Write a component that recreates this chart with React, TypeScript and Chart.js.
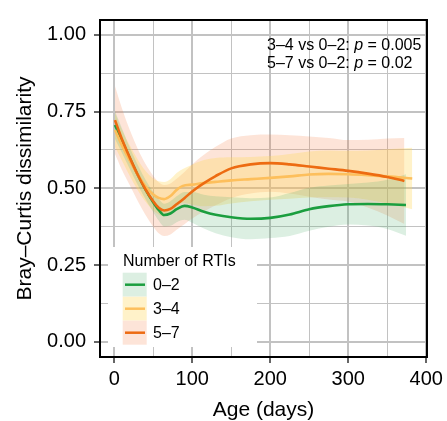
import React, { useEffect, useRef } from "react";
import { Chart, registerables } from "chart.js";

Chart.register(...registerables);

// ---- data ----
const groupNames = ["0–2", "3–4", "5–7"];
const legendTitle = "Number of RTIs";
const xTitle = "Age (days)";
const yTitle = "Bray–Curtis dissimilarity";
const annotationLines = [
  ["3–4 vs 0–2: ", "p", " = 0.005"],
  ["5–7 vs 0–2: ", "p", " = 0.02"],
];

const xTickValues = [0, 50, 100, 150, 200, 250, 300, 350, 400];
const xMajorTicks = [0, 100, 200, 300, 400];
const yTickValues = [0, 0.125, 0.25, 0.375, 0.5, 0.625, 0.75, 0.875, 1];
const yMajorTicks = [0, 0.25, 0.5, 0.75, 1];

const days02 = [1, 10, 20, 30, 40, 50, 57, 64, 72, 80, 90, 100, 115, 130, 150, 175, 200, 225, 250, 275, 300, 325, 350, 374];
const mean02 = [0.706, 0.655, 0.598, 0.545, 0.497, 0.455, 0.43, 0.413, 0.418, 0.432, 0.443, 0.438, 0.424, 0.414, 0.406, 0.401, 0.404, 0.415, 0.432, 0.442, 0.448, 0.449, 0.448, 0.446];
const upper02 = [0.751, 0.695, 0.633, 0.578, 0.529, 0.488, 0.465, 0.45, 0.458, 0.474, 0.488, 0.488, 0.479, 0.474, 0.471, 0.468, 0.47, 0.485, 0.502, 0.509, 0.514, 0.519, 0.528, 0.546];
const lower02 = [0.661, 0.615, 0.563, 0.512, 0.465, 0.422, 0.395, 0.376, 0.378, 0.39, 0.398, 0.388, 0.369, 0.354, 0.341, 0.334, 0.338, 0.345, 0.362, 0.375, 0.382, 0.379, 0.368, 0.346];

const days34 = [1, 10, 20, 30, 40, 50, 57, 64, 72, 80, 88, 100, 115, 130, 150, 175, 200, 225, 250, 275, 300, 325, 350, 382];
const mean34 = [0.69, 0.64, 0.59, 0.545, 0.507, 0.48, 0.469, 0.465, 0.475, 0.495, 0.508, 0.512, 0.517, 0.521, 0.526, 0.53, 0.534, 0.539, 0.545, 0.547, 0.546, 0.543, 0.539, 0.532];
const upper34 = [0.745, 0.69, 0.64, 0.595, 0.557, 0.532, 0.523, 0.521, 0.53, 0.55, 0.563, 0.577, 0.592, 0.599, 0.601, 0.602, 0.605, 0.612, 0.62, 0.623, 0.622, 0.623, 0.627, 0.632];
const lower34 = [0.635, 0.59, 0.54, 0.495, 0.457, 0.428, 0.415, 0.409, 0.42, 0.44, 0.453, 0.447, 0.442, 0.443, 0.451, 0.458, 0.463, 0.466, 0.47, 0.471, 0.47, 0.463, 0.451, 0.432];

const days57 = [1, 10, 20, 30, 40, 50, 57, 64, 72, 80, 90, 100, 115, 130, 150, 175, 200, 225, 250, 275, 300, 325, 350, 372];
const mean57 = [0.722, 0.66, 0.6, 0.545, 0.497, 0.458, 0.437, 0.428, 0.433, 0.448, 0.468, 0.49, 0.517, 0.54, 0.565, 0.578, 0.582, 0.578, 0.571, 0.564, 0.557, 0.548, 0.537, 0.524];
const upper57 = [0.832, 0.76, 0.69, 0.63, 0.58, 0.541, 0.52, 0.511, 0.516, 0.531, 0.553, 0.578, 0.609, 0.635, 0.662, 0.673, 0.675, 0.673, 0.669, 0.664, 0.657, 0.658, 0.662, 0.664];
const lower57 = [0.612, 0.56, 0.51, 0.46, 0.414, 0.375, 0.354, 0.345, 0.35, 0.365, 0.383, 0.402, 0.425, 0.445, 0.468, 0.483, 0.489, 0.483, 0.473, 0.464, 0.457, 0.438, 0.412, 0.384];

const groupDays = [days02, days34, days57];
const groupMeans = [mean02, mean34, mean57];
const groupUppers = [upper02, upper34, upper57];
const groupLowers = [lower02, lower34, lower57];

// ---- styles ----
const lineColors = ["#1b9e3f", "#fdbf5c", "#ed6b12"];
const bandColors = ["rgba(80,175,110,0.2)", "rgba(255,215,90,0.33)", "rgba(245,120,60,0.2)"];
const FONT = "'Liberation Sans', Arial, Helvetica, sans-serif";
const gridColor = "#c2c2c2";

const pts = (xs: number[], ys: number[]) => xs.map((x, i) => ({ x, y: ys[i] }));

const overlayPlugin = {
  id: "overlay",
  afterDraw(chart: any) {
    const { ctx, chartArea } = chart;
    const { left, right, top, bottom } = chartArea;
    ctx.save();
    // panel border
    ctx.strokeStyle = "#000";
    ctx.lineWidth = 2;
    ctx.strokeRect(left, top, right - left, bottom - top);

    // annotation
    ctx.fillStyle = "#000";
    ctx.textBaseline = "alphabetic";
    ctx.textAlign = "left";
    const ax = 267;
    const baselines = [50, 68];
    annotationLines.forEach((parts, li) => {
      let x = ax;
      parts.forEach((p, pi) => {
        ctx.font = (pi === 1 ? "italic " : "") + "16px " + FONT;
        ctx.fillText(p, x, baselines[li]);
        x += ctx.measureText(p).width;
      });
    });

    // legend
    const bx = 108, by = 247, bw = 149, bh = 100;
    ctx.fillStyle = "#fff";
    ctx.fillRect(bx, by, bw, bh);
    ctx.fillStyle = "#000";
    ctx.font = "16px " + FONT;
    ctx.textBaseline = "middle";
    ctx.fillText(legendTitle, 123, 262);
    groupNames.forEach((name, i) => {
      const ky = 272.7 + i * 24;
      ctx.fillStyle = "#fff";
      ctx.fillRect(122.7, ky, 24, 24);
      ctx.fillStyle = bandColors[i];
      ctx.fillRect(122.7, ky, 24, 24);
      ctx.strokeStyle = lineColors[i];
      ctx.lineWidth = 2.5;
      ctx.beginPath();
      ctx.moveTo(125, ky + 12);
      ctx.lineTo(145, ky + 12);
      ctx.stroke();
      ctx.fillStyle = "#000";
      ctx.font = "16px " + FONT;
      ctx.fillText(name, 153, ky + 12.5);
    });
    ctx.restore();
  },
};

export default function App() {
  const ref = useRef<HTMLCanvasElement | null>(null);
  useEffect(() => {
    document.body.style.margin = "0";
    const canvas = ref.current!;
    const datasets: any[] = [];
    for (let g = 0; g < 3; g++) {
      datasets.push({
        label: groupNames[g] + " upper",
        data: pts(groupDays[g], groupUppers[g]),
        borderWidth: 0,
        borderColor: "rgba(0,0,0,0)",
        backgroundColor: bandColors[g],
        pointRadius: 0,
        fill: g * 2 + 1,
        cubicInterpolationMode: "monotone",
        order: 20 + g,
      });
      datasets.push({
        label: groupNames[g] + " lower",
        data: pts(groupDays[g], groupLowers[g]),
        borderWidth: 0,
        borderColor: "rgba(0,0,0,0)",
        pointRadius: 0,
        fill: false,
        cubicInterpolationMode: "monotone",
        order: 20 + g,
      });
    }
    for (let g = 0; g < 3; g++) {
      datasets.push({
        label: groupNames[g],
        data: pts(groupDays[g], groupMeans[g]),
        borderColor: lineColors[g],
        borderWidth: 2.6,
        pointRadius: 0,
        fill: false,
        cubicInterpolationMode: "monotone",
        order: 2 - g,
      });
    }
    const isMajorX = (v: number) => xMajorTicks.includes(v);
    const isMajorY = (v: number) => yMajorTicks.some((m) => Math.abs(m - v) < 1e-9);
    const chart = new Chart(canvas, {
      type: "line",
      data: { datasets },
      plugins: [overlayPlugin],
      options: {
        animation: false,
        responsive: false,
        maintainAspectRatio: false,
        events: [],
        layout: { padding: { top: 13, right: 18, left: 0, bottom: 0 } },
        plugins: {
          legend: { display: false },
          tooltip: { enabled: false },
          filler: { drawTime: "beforeDatasetsDraw" },
        },
        scales: {
          x: {
            type: "linear",
            min: -18.2,
            max: 400.9,
            afterBuildTicks: (s: any) => {
              s.ticks = xTickValues.map((v) => ({ value: v }));
            },
            afterFit: (s: any) => {
              s.height = 64;
            },
            border: { display: false },
            grid: {
              color: gridColor,
              lineWidth: (c: any) => (c.tick && isMajorX(c.tick.value) ? 2 : 1),
              tickColor: (c: any) => (c.tick && isMajorX(c.tick.value) ? "#333" : "rgba(0,0,0,0)"),
              tickLength: 6,
              tickWidth: 1.5,
            },
            ticks: {
              color: "#000",
              font: { family: FONT, size: 20 },
              padding: 4,
              maxRotation: 0,
              autoSkip: false,
              callback: (v: any) => (isMajorX(Number(v)) ? String(v) : ""),
            },
            title: {
              display: true,
              text: xTitle,
              color: "#000",
              font: { family: FONT, size: 21, lineHeight: 1 },
              padding: { top: 0, bottom: 0 },
            },
          },
          y: {
            type: "linear",
            min: -0.049,
            max: 1.048,
            afterBuildTicks: (s: any) => {
              s.ticks = yTickValues.map((v) => ({ value: v }));
            },
            afterFit: (s: any) => {
              s.width = 100;
            },
            border: { display: false },
            grid: {
              color: gridColor,
              lineWidth: (c: any) => (c.tick && isMajorY(c.tick.value) ? 2 : 1),
              tickColor: (c: any) => (c.tick && isMajorY(c.tick.value) ? "#333" : "rgba(0,0,0,0)"),
              tickLength: 6,
              tickWidth: 1.5,
            },
            ticks: {
              color: "#000",
              font: { family: FONT, size: 20 },
              padding: 8,
              autoSkip: false,
              callback: (v: any) => (isMajorY(Number(v)) ? Number(v).toFixed(2) : ""),
            },
            title: {
              display: true,
              text: yTitle,
              color: "#000",
              font: { family: FONT, size: 21, lineHeight: 1 },
              padding: { top: 15, bottom: 0 },
            },
          },
        },
      } as any,
    });
    return () => chart.destroy();
  }, []);
  return (
    <div style={{ width: 447, height: 421 }}>
      <canvas ref={ref} width={447} height={421} style={{ display: "block", width: 447, height: 421 }} />
    </div>
  );
}
